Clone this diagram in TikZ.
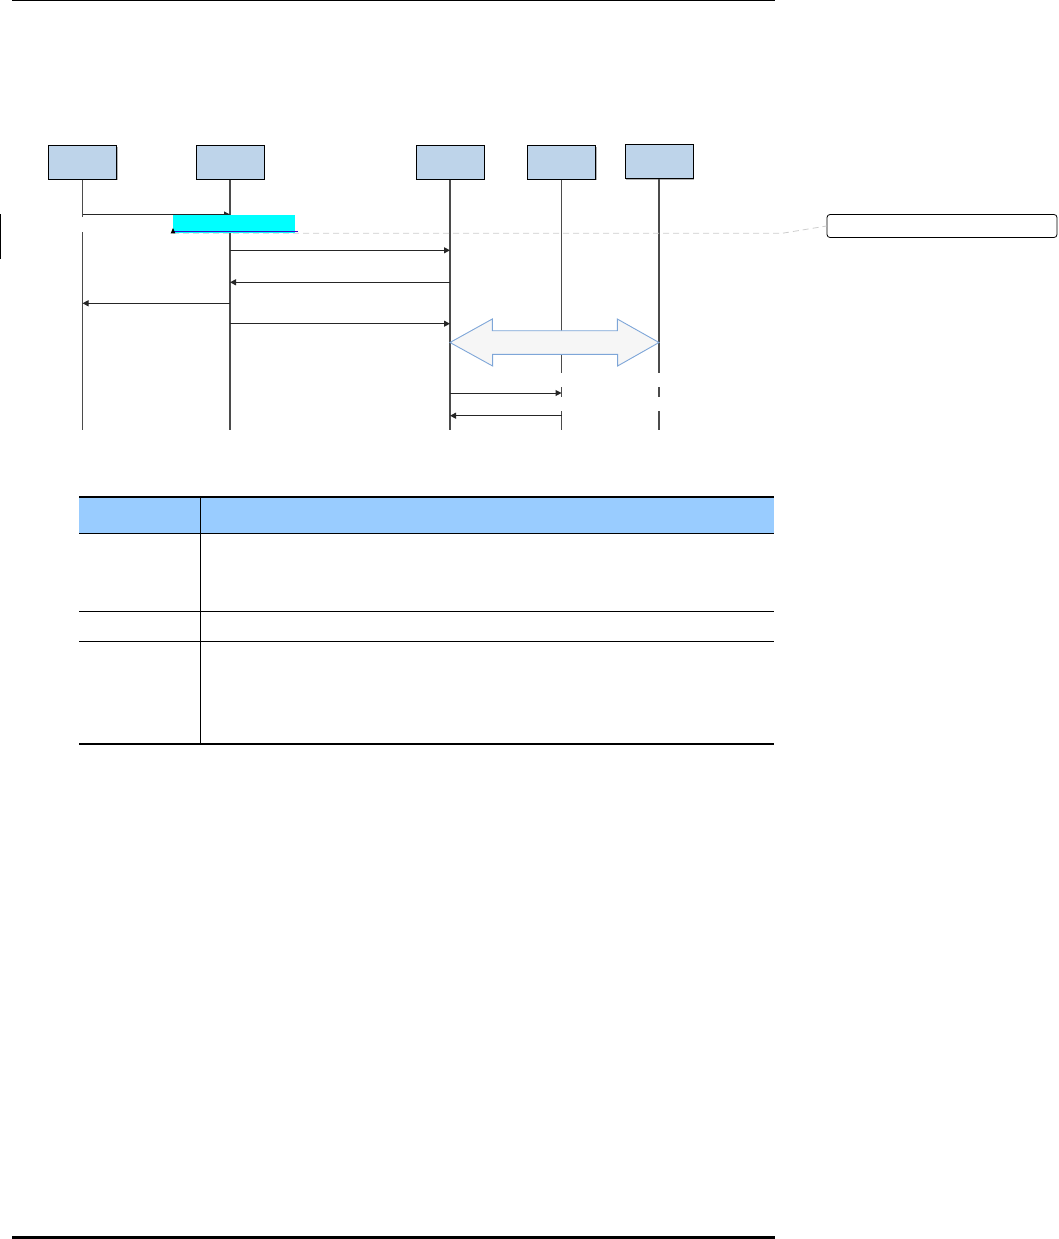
\documentclass[tikz,border=0pt]{standalone}
\usepackage{tikz}
\usepackage{xcolor}
\usetikzlibrary{arrows.meta, positioning, shadows}
\definecolor{cBox}{RGB}{190,212,234}
\definecolor{cLife}{RGB}{75,75,75}
\definecolor{cHilite}{RGB}{0,255,255}
\definecolor{cMark}{RGB}{70,0,200}
\definecolor{cGuide}{RGB}{205,205,205}
\definecolor{cBlock}{RGB}{126,166,216}
\definecolor{cBlockBg}{RGB}{246,246,246}
\definecolor{cHead}{RGB}{153,204,255}
\tikzset{
	actor/.style    ={rectangle, draw=black, line width=1pt, fill=cBox, minimum width=68pt, minimum height=33.5pt, inner sep=0pt, drop shadow={shadow xshift=1.4pt, shadow yshift=-1.4pt, fill=black!30, opacity=1}},
	life/.style     ={draw=cLife, line width=1.3pt},
	msg/.style      ={-{Triangle[length=6pt, width=6pt]}, line width=1pt, draw=black!85},
	% note and table styles
	guide/.style    ={draw=cGuide, dash pattern=on 6pt off 4pt, line width=0.8pt},
	callout/.style  ={rectangle, draw=black, line width=0.8pt, rounded corners=3pt, minimum width=230pt, minimum height=23pt, inner sep=0pt},
	rule/.style     ={line width=0.8pt, black},
	heavyrule/.style={line width=2.4pt, black},
}
\begin{document}
\begin{tikzpicture}[x=1pt, y=-1pt, every node/.style={font=\scriptsize}]
	\useasboundingbox (0,0) rectangle (1058,1239);
	% page rules
	\draw[line width=1.2pt] (12,0.6) -- (775,0.6);
	\draw[line width=3pt] (12,1237.5) -- (775,1237.5);
	\draw[line width=1pt] (0.5,214) -- (0.5,259);
	% participants
	\node[actor] (p1) at (82.5,162.3) {};
	\node[actor, right=78.5pt of p1] (p2) {};
	\node[actor, right=151pt of p2] (p3) {};
	\node[actor, right=42.5pt of p3] (p4) {};
	\node[actor, right=28.5pt of p4, yshift=0.8pt] (p5) {};
	% lifelines
	\draw[life] (p1.south) -- (p1 |- 0,217);
	\draw[life] (p1 |- 0,232) -- (p1 |- 0,430);
	\draw[life] (p2.south) -- (p2 |- 0,430);
	\draw[life] (p3.south) -- (p3 |- 0,430);
	\foreach \p in {p4, p5} {
		\draw[life] (\p.south) -- (\p |- 0,372.5);
		\draw[life] (\p |- 0,387) -- (\p |- 0,397);
		\draw[life] (\p |- 0,411) -- (\p |- 0,430);
	}
	% messages
	\draw[msg] (p1 |- 0,214.5) -- (p2 |- 0,214.5);
	\draw[msg] (p2 |- 0,250.3) -- (p3 |- 0,250.3);
	\draw[msg] (p3 |- 0,282.3) -- (p2 |- 0,282.3);
	\draw[msg] (p2 |- 0,303.3) -- (p1 |- 0,303.3);
	\draw[msg] (p2 |- 0,323.7) -- (p3 |- 0,323.7);
	\draw[msg] (p3 |- 0,393) -- (p4 |- 0,393);
	\draw[msg] (p4 |- 0,415.7) -- (p3 |- 0,415.7);
	% exchange between p3 and p5
	\coordinate (xl) at (p3 |- 0,342.5);
	\coordinate (xr) at (p5 |- 0,342.5);
	\draw[cBlock, fill=cBlockBg, line width=0.9pt, line join=miter]
		(xl) -- ++(42.3,-23.5) -- ++(0,11.7) -- ++(125,0) -- ++(0,-11.7)
		-- (xr) -- ++(-41.4,23.5) -- ++(0,-11.7) -- ++(-125,0) -- ++(0,11.7) -- cycle;
	% highlighted note with guide to callout
	\node[callout] (call) at (942,226) {};
	\coordinate (bend) at (782,233.3);
	\draw[guide] (173,233.3) -- (bend) -- (call.west);
	\node[fill=cHilite, inner sep=0pt, minimum width=122.3pt, minimum height=18.3pt] (note) at (233.9,224.2) {};
	\draw[cMark, line width=0.8pt] (note.south west |- 0,231) -- ++(125,0);
	\fill (170.7,233.3) -- (175.3,233.3) -- (173,228) -- cycle;
	% table
	\fill[cHead] (79,497) rectangle (774,533);
	\draw[heavyrule] (79,497.2) -- (774,497.2);
	\draw[rule] (79,533) -- (774,533);
	\draw[rule] (79,611) -- (774,611);
	\draw[rule] (79,641.3) -- (774,641.3);
	\draw[rule] (200,497) -- (200,744);
	\draw[heavyrule] (79,744.2) -- (774,744.2);
\end{tikzpicture}
\end{document}
